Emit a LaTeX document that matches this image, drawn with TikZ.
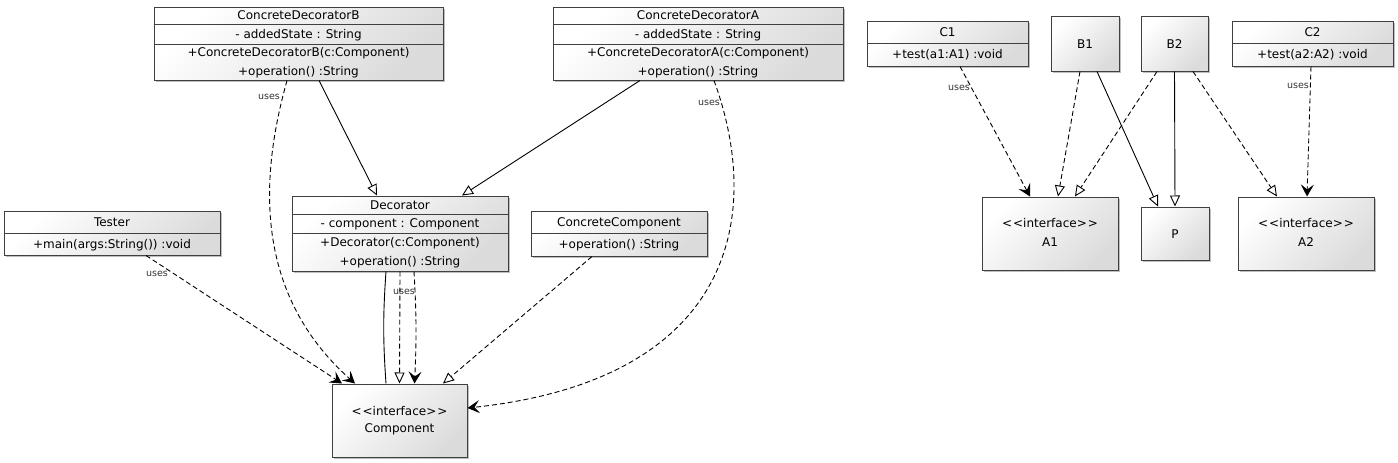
\documentclass[tikz,border=0pt]{standalone}
\usepackage{fontspec}
\setmainfont{DejaVu Sans}
\usetikzlibrary{arrows.meta,shadows}

\begin{document}
\begin{tikzpicture}[x=1pt, y=-1pt,
        classbox/.style 2 args={draw=black!75, line width=1pt, inner sep=0pt,
            minimum width=#1, minimum height=#2,
            top color=white, bottom color=black!14, shading angle=45,
            drop shadow={shadow xshift=2pt, shadow yshift=-2pt, opacity=0.25, fill=black}},
        divider/.style={draw=black!75, line width=1pt},
        member/.style={anchor=base, inner sep=0pt, text=black, font=\fontsize{12}{14}\selectfont},
        uselabel/.style={inner sep=0pt, text=black!80, font=\fontsize{9.5}{10}\selectfont},
        link/.style={line width=0.9pt},
        inherit/.style={line width=0.9pt, -{Triangle[length=11pt, width=10pt, fill=white]}},
        realize/.style={inherit, dash pattern=on 5pt off 3pt},
        uses/.style={line width=0.9pt, dash pattern=on 5pt off 3pt, -{Stealth[length=12pt, width=13pt, inset=5pt]}}]

        \useasboundingbox (0,0) rectangle (1398,463);

        % draw the classes of the decorator
        \node[classbox={289}{73}] (cdb) at (298.5,43.5) {};
        \draw[divider] (cdb.west |- 0,24) -- (cdb.east |- 0,24);
        \draw[divider] (cdb.west |- 0,44) -- (cdb.east |- 0,44);
        \node[member] (cdb-name) at (298.5,19.5) {ConcreteDecoratorB};
        \node[member] (cdb-attr) at (298.5,38) {- addedState : String};
        \node[member] (cdb-new) at (298.5,56.5) {+ConcreteDecoratorB(c:Component)};
        \node[member] (cdb-op) at (298.5,75) {+operation() :String};

        \node[classbox={290}{73}] (cda) at (698,43.5) {};
        \draw[divider] (cda.west |- 0,24) -- (cda.east |- 0,24);
        \draw[divider] (cda.west |- 0,44) -- (cda.east |- 0,44);
        \node[member] (cda-name) at (698,19.5) {ConcreteDecoratorA};
        \node[member] (cda-attr) at (698,38) {- addedState : String};
        \node[member] (cda-new) at (698,56.5) {+ConcreteDecoratorA(c:Component)};
        \node[member] (cda-op) at (698,75) {+operation() :String};

        \node[classbox={216}{44}] (tester) at (112,233) {};
        \draw[divider] (tester.west |- 0,233) -- (tester.east |- 0,233);
        \node[member] (tester-name) at (112,226.5) {Tester};
        \node[member] (tester-main) at (112,248.5) {+main(args:String()) :void};

        \node[classbox={216}{75}] (dec) at (400,233.5) {};
        \draw[divider] (dec.west |- 0,214) -- (dec.east |- 0,214);
        \draw[divider] (dec.west |- 0,233) -- (dec.east |- 0,233);
        \node[member] (dec-name) at (400,209.5) {Decorator};
        \node[member] (dec-attr) at (400,227.5) {- component : Component};
        \node[member] (dec-new) at (400,246.5) {+Decorator(c:Component)};
        \node[member] (dec-op) at (400,265.5) {+operation() :String};

        \node[classbox={176}{45}] (cc) at (619,233.5) {};
        \draw[divider] (cc.west |- 0,233) -- (cc.east |- 0,233);
        \node[member] (cc-name) at (619,226.5) {ConcreteComponent};
        \node[member] (cc-op) at (619,248.5) {+operation() :String};

        \node[classbox={135}{73}] (comp) at (399.5,420.5) {};
        \node[member] (comp-st) at (399.5,415.5) {<\kern1pt<interface>\kern1pt>};
        \node[member] (comp-name) at (399.5,432.5) {Component};

        % draw the small example on the right
        \node[classbox={161}{45}] (c1) at (947.5,43.5) {};
        \draw[divider] (c1.west |- 0,43) -- (c1.east |- 0,43);
        \node[member] (c1-name) at (947.5,36.5) {C1};
        \node[member] (c1-test) at (947.5,58.5) {+test(a1:A1) :void};

        \node[classbox={68}{55}] (b1) at (1085,43.5) {};
        \node[member] (b1-name) at (1085,48) {B1};
        \node[classbox={67}{55}] (b2) at (1174.5,43.5) {};
        \node[member] (b2-name) at (1174.5,48) {B2};

        \node[classbox={161}{45}] (c2) at (1312.5,43.5) {};
        \draw[divider] (c2.west |- 0,43) -- (c2.east |- 0,43);
        \node[member] (c2-name) at (1312.5,36.5) {C2};
        \node[member] (c2-test) at (1312.5,58.5) {+test(a2:A2) :void};

        \node[classbox={136}{73}] (a1) at (1050,233.5) {};
        \node[member] (a1-st) at (1050,227.5) {<\kern1pt<interface>\kern1pt>};
        \node[member] (a1-name) at (1050,246.5) {A1};
        \node[classbox={68}{53}] (p) at (1175,233.5) {};
        \node[member] (p-name) at (1175,238) {P};
        \node[classbox={136}{73}] (a2) at (1306,233.5) {};
        \node[member] (a2-st) at (1306,227.5) {<\kern1pt<interface>\kern1pt>};
        \node[member] (a2-name) at (1306,246.5) {A2};

        % the "uses" texts
        \node[uselabel] (u-cdb) at (269,97) {uses};
        \node[uselabel] (u-cda) at (709,103) {uses};
        \node[uselabel] (u-tester) at (157,274) {uses};
        \node[uselabel] (u-dec) at (404,292) {uses};
        \node[uselabel] (u-c1) at (959,88) {uses};
        \node[uselabel] (u-c2) at (1298,86) {uses};

        % draw the arrows
        \draw[inherit] ([xshift=20.5pt]cdb.south) -- ([xshift=-23pt]dec.north);
        \draw[inherit] ([xshift=-58pt]cda.south) -- ([xshift=62pt]dec.north);
        \draw[uses] ([xshift=-11.5pt]cdb.south) .. controls (262,170) and (250,290) .. ([xshift=-44.5pt]comp.north);
        \draw[uses] ([xshift=16pt]cda.south) .. controls (765,220) and (730,380) .. ([yshift=12.5pt]comp.east);
        \draw[uses] ([xshift=34pt]tester.south) -- ([xshift=-57.5pt]comp.north);
        \draw[link] ([xshift=-14pt]dec.south) to[bend right=4] ([xshift=-13.5pt]comp.north);
        \draw[realize] (dec.south) -- (comp.north);
        \draw[uses] ([xshift=14pt]dec.south) to[bend left=3] ([xshift=15pt]comp.north);
        \draw[realize] ([xshift=-27pt]cc.south) -- ([xshift=43.5pt]comp.north);

        \draw[uses] ([xshift=12.5pt]c1.south) -- ([xshift=-20pt]a1.north);
        \draw[realize] ([xshift=-5pt]b1.south) -- ([xshift=8pt]a1.north);
        \draw[inherit] ([xshift=12pt]b1.south) -- ([xshift=-17pt]p.north);
        \draw[realize] ([xshift=-17.5pt]b2.south) -- ([xshift=25pt]a1.north);
        \draw[inherit] (b2.south) -- (p.north);
        \draw[realize] ([xshift=18.5pt]b2.south) -- ([xshift=-29pt]a2.north);
        \draw[uses] ([xshift=-1.5pt]c2.south) -- ([xshift=1pt]a2.north);

    \end{tikzpicture}
\end{document}
